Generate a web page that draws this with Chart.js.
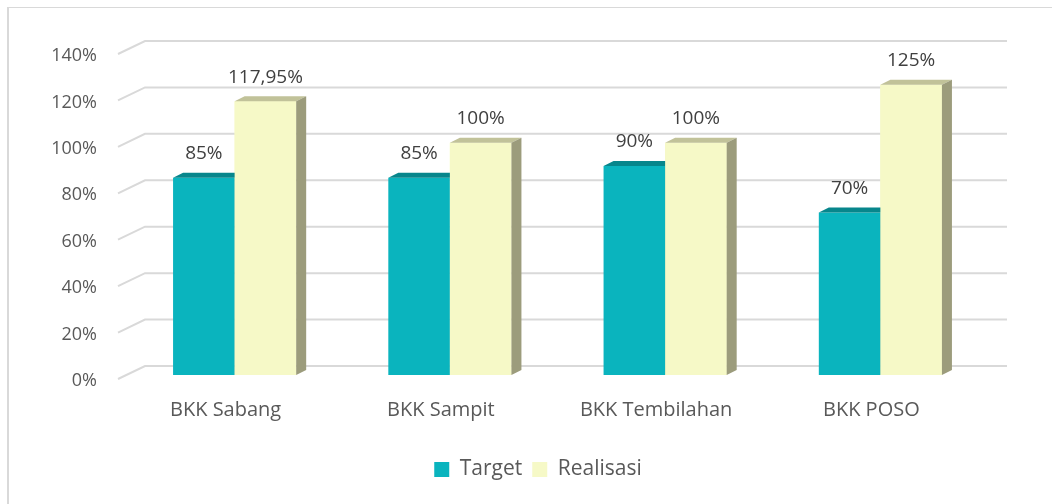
<!DOCTYPE html>
<html>
<head>
<meta charset="utf-8">
<script src="https://cdn.jsdelivr.net/npm/chart.js@4/dist/chart.umd.min.js"></script>
<style>
  html, body { margin: 0; padding: 0; background: #fff; overflow: hidden; }
  #frame { position: absolute; left: 7px; top: 7px; width: 1200px; height: 600px;
           border-left: 2px solid #d9d9d9; border-top: 1px solid #d9d9d9; }
  #wrap { position: absolute; left: 0; top: 0; width: 1052px; height: 504px; }
</style>
</head>
<body>
<div id="frame"></div>
<div id="wrap"><canvas id="chart"></canvas></div>
<script>
// data
const categories = ['BKK Sabang', 'BKK Sampit', 'BKK Tembilahan', 'BKK POSO'];
const targetValues = [85, 85, 90, 70];
const realisasiValues = [117.95, 100, 100, 125];
const targetLabels = ['85%', '85%', '90%', '70%'];
const realisasiLabels = ['117,95%', '100%', '100%', '125%'];

const FONT = "'Open Sans', 'Noto Sans', sans-serif";
const DEPTH_X = 10, DEPTH_Y = -5;

// slanted "3D" gridlines behind the bars
const gridPlugin = {
  id: 'grid3d',
  afterLayout(chart) {
    // legend sits a bit right of the canvas centre in the original
    chart.legend.left += 24;
    chart.legend.right += 24;
  },
  beforeDatasetsDraw(chart) {
    const { ctx, chartArea, scales: { y } } = chart;
    ctx.save();
    ctx.strokeStyle = '#d9d9d9';
    ctx.lineWidth = 2;
    y.ticks.forEach(t => {
      const yb = y.getPixelForValue(t.value) - 9;
      ctx.beginPath();
      ctx.moveTo(chartArea.left - 9, yb + 13);
      ctx.lineTo(chartArea.left + 18, yb);
      ctx.lineTo(chartArea.right + 19, yb);
      ctx.stroke();
    });
    ctx.restore();
  }
};

function drawFaces(ctx, ds, bars) {
  bars.forEach(bar => {
    const { x, y, base, width } = bar.getProps(['x', 'y', 'base', 'width'], true);
    const l = x - width / 2, r = x + width / 2;
    ctx.fillStyle = ds.topColor;
    ctx.beginPath();
    ctx.moveTo(l, y);
    ctx.lineTo(l + DEPTH_X, y + DEPTH_Y);
    ctx.lineTo(r + DEPTH_X, y + DEPTH_Y);
    ctx.lineTo(r, y);
    ctx.closePath();
    ctx.fill();
    ctx.fillStyle = ds.sideColor;
    ctx.beginPath();
    ctx.moveTo(r, y);
    ctx.lineTo(r + DEPTH_X, y + DEPTH_Y);
    ctx.lineTo(r + DEPTH_X, base + DEPTH_Y);
    ctx.lineTo(r, base);
    ctx.closePath();
    ctx.fill();
  });
}

// top and side faces; Realisasi fronts are redrawn so they cover the Target faces
const facesPlugin = {
  id: 'faces3d',
  afterDatasetsDraw(chart) {
    const ctx = chart.ctx;
    const dsT = chart.data.datasets[0], dsR = chart.data.datasets[1];
    const barsT = chart.getDatasetMeta(0).data, barsR = chart.getDatasetMeta(1).data;
    ctx.save();
    drawFaces(ctx, dsT, barsT);
    barsR.forEach(b => b.draw(ctx));
    drawFaces(ctx, dsR, barsR);

    ctx.font = '19px ' + FONT;
    ctx.fillStyle = '#404040';
    ctx.textAlign = 'center';
    ctx.textBaseline = 'middle';
    chart.data.datasets.forEach((ds, i) => {
      chart.getDatasetMeta(i).data.forEach((bar, j) => {
        ctx.fillText(ds.valueLabels[j], bar.x, bar.y - 24);
      });
    });
    ctx.restore();
  }
};

new Chart(document.getElementById('chart'), {
  type: 'bar',
  data: {
    labels: categories,
    datasets: [
      {
        label: 'Target',
        data: targetValues,
        valueLabels: targetLabels,
        backgroundColor: '#0AB4BE',
        topColor: '#07868C',
        sideColor: '#07959C'
      },
      {
        label: 'Realisasi',
        data: realisasiValues,
        valueLabels: realisasiLabels,
        backgroundColor: '#F6F9C7',
        topColor: '#C1C299',
        sideColor: '#9C9C7C'
      }
    ]
  },
  options: {
    responsive: true,
    maintainAspectRatio: false,
    animation: false,
    layout: { padding: { left: 40, right: 64, top: 50, bottom: 14 } },
    datasets: { bar: { barPercentage: 1, categoryPercentage: 0.572, borderWidth: 0 } },
    plugins: {
      legend: {
        position: 'bottom',
        labels: {
          boxWidth: 15,
          boxHeight: 15,
          padding: 10,
          color: '#595959',
          font: { family: FONT, size: 21 }
        }
      },
      tooltip: { enabled: false }
    },
    scales: {
      x: {
        grid: { display: false, drawTicks: false },
        border: { display: false },
        ticks: { color: '#595959', font: { family: FONT, size: 20 }, padding: 23, labelOffset: -9 },
        afterFit(scale) { scale.height = 74; }
      },
      y: {
        min: 0,
        max: 140,
        grid: { display: false, drawTicks: false },
        border: { display: false },
        ticks: {
          stepSize: 20,
          color: '#595959',
          font: { family: FONT, size: 18 },
          padding: 30,
          labelOffset: 6,
          callback: v => v + '%'
        },
        afterFit(scale) { scale.width = 87; }
      }
    }
  },
  plugins: [gridPlugin, facesPlugin]
});
</script>
</body>
</html>
